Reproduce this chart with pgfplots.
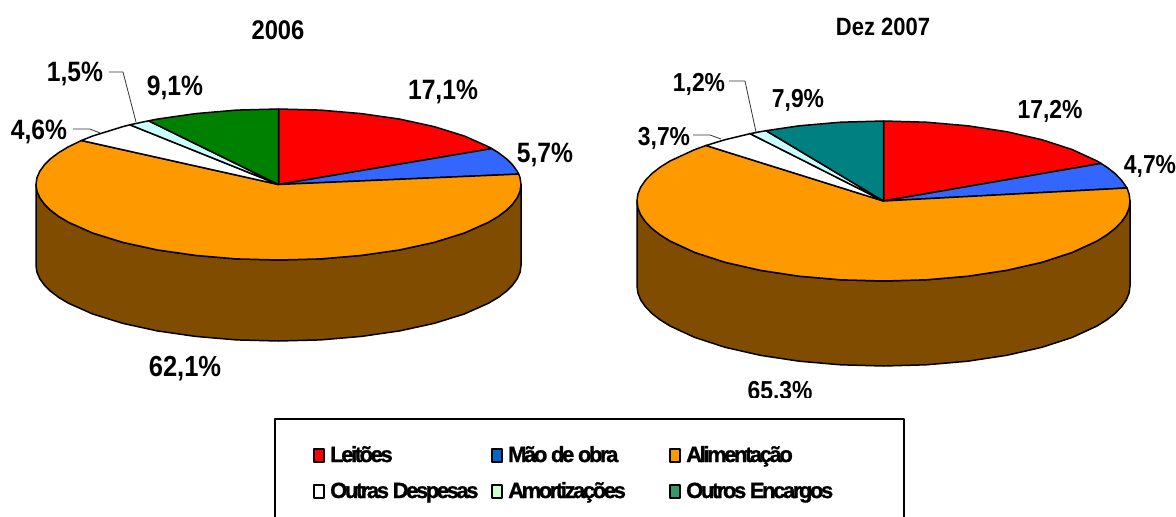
\documentclass[border=0pt]{standalone}
\usepackage{fontspec}
\setmainfont{Liberation Sans}
\newfontfamily\legfont[LetterSpace=-11,BoldFeatures={FakeBold=1.2}]{Liberation Sans}
\usepackage{pgfplots}
\pgfplotsset{compat=1.18}
\definecolor{cBrown}{HTML}{7F4C00}
\definecolor{cBlue}{HTML}{3366FF}
\definecolor{cOrange}{HTML}{FF9900}
\definecolor{cCyan}{HTML}{CCFFFF}
\definecolor{cGreen}{HTML}{008000}
\definecolor{cTeal}{HTML}{008080}
\definecolor{cLegBlue}{HTML}{0066CC}
\definecolor{cLegMint}{HTML}{CCFFCC}
\definecolor{cLegGreen}{HTML}{339966}
\newcommand{\lab}[2]{\fontsize{#1}{#1}\selectfont\bfseries\scalebox{.88}[1]{#2}}
\newcommand{\leg}[1]{\legfont\fontsize{22}{22}\selectfont\bfseries #1}
\begin{document}
\begin{tikzpicture}
\begin{axis}[
  scale only axis, width=1176pt, height=517pt,
  xmin=0, xmax=1176, ymin=0, ymax=517, y dir=reverse,
  hide axis, clip=true,
  every axis plot/.append style={no markers, line join=round},
  slice/.style={draw=black, line width=1.5pt},
  lead/.style={draw=black!80, line width=0.8pt},
  sw/.style={draw=black, line width=1.2pt},
]
% ---------- 2006 ----------
\addplot[slice, fill=cBrown] coordinates {
(521,184.5)(520.1,191.1)(517.3,197.6)(512.7,204)(506.4,210.3)(498.3,216.4)(488.5,222.25)(464.3,233)(434.4,242.3)(399.75,249.9)(361.4,255.4)(320.6,258.9)(278.5,260)(236.4,258.9)(195.6,255.4)(157.25,249.9)(122.6,242.3)(92.7,233)(68.5,222.25)(58.7,216.4)(50.6,210.3)(44.3,204)(39.7,197.6)(36.9,191.1)(36,184.5)
(36,265.5)(36.9,272.1)(39.7,278.6)(44.3,285)(50.6,291.3)(58.7,297.4)(68.5,303.25)(92.7,314)(122.6,323.3)(157.25,330.9)(195.6,336.4)(236.4,339.9)(278.5,341)(320.6,339.9)(361.4,336.4)(399.75,330.9)(434.4,323.3)(464.3,314)(488.5,303.25)(498.3,297.4)(506.4,291.3)(512.7,285)(517.3,278.6)(520.1,272.1)(521,265.5)
} -- cycle;
% Leitoes 17.1
\addplot[slice, fill=red] coordinates {
(278.5,184.5)(278.5,109)(320.6,110.1)(361.4,113.6)(399.75,119.1)(434.4,126.7)(464.3,136)(488.5,146.75)(491.8,148.6)
} -- cycle;
% Mao de obra 5.7
\addplot[slice, fill=cBlue] coordinates {
(278.5,184.5)(491.8,148.6)(498.3,152.6)(506.4,158.7)(512.7,165)(517.3,171.4)(518.7,174.1)
} -- cycle;
% Alimentacao 62.1
\addplot[slice, fill=cOrange] coordinates {
(278.5,184.5)(518.7,174.1)(520.1,177.9)(521,184.5)(520.1,191.1)(517.3,197.6)(512.7,204)(506.4,210.3)(498.3,216.4)(488.5,222.25)(464.3,233)(434.4,242.3)(399.75,249.9)(361.4,255.4)(320.6,258.9)(278.5,260)(236.4,258.9)(195.6,255.4)(157.25,249.9)(122.6,242.3)(92.7,233)(68.5,222.25)(58.7,216.4)(50.6,210.3)(44.3,204)(39.7,197.6)(36.9,191.1)(36,184.5)(36.9,177.9)(39.7,171.4)(44.3,165)(50.6,158.7)(58.7,152.6)(68.5,146.75)(81.4,140.5)
} -- cycle;
% Outras despesas 4.6
\addplot[slice, fill=white] coordinates {
(278.5,184.5)(81.4,140.5)(92.7,136)(122.6,126.7)(129.9,124.8)
} -- cycle;
% Amortizacoes 1.5
\addplot[slice, fill=cCyan] coordinates {
(278.5,184.5)(129.9,124.8)(148.6,120.8)
} -- cycle;
% Outros encargos 9.1
\addplot[slice, fill=cGreen] coordinates {
(278.5,184.5)(148.6,120.8)(157.25,119.1)(195.6,113.6)(236.4,110.1)(278.5,109)
} -- cycle;
% ---------- Dez 2007 ----------
\addplot[slice, fill=cBrown] coordinates {
(1130,201)(1129.1,208)(1126.3,214.9)(1121.6,221.7)(1115.1,228.4)(1106.9,234.8)(1097,241)(1072.3,252.4)(1041.9,262.3)(1006.75,270.3)(967.8,276.2)(926.3,279.8)(883.5,281)(840.7,279.8)(799.2,276.2)(760.25,270.3)(725.1,262.3)(694.7,252.4)(670,241)(660.1,234.8)(651.9,228.4)(645.4,221.7)(640.7,214.9)(637.9,208)(637,201)
(637,286)(637.9,293)(640.7,299.9)(645.4,306.7)(651.9,313.4)(660.1,319.8)(670,326)(694.7,337.4)(725.1,347.3)(760.25,355.3)(799.2,361.2)(840.7,364.8)(883.5,366)(926.3,364.8)(967.8,361.2)(1006.75,355.3)(1041.9,347.3)(1072.3,337.4)(1097,326)(1106.9,319.8)(1115.1,313.4)(1121.6,306.7)(1126.3,299.9)(1129.1,293)(1130,286)
} -- cycle;
% Leitoes 17.2
\addplot[slice, fill=red] coordinates {
(883.5,201)(883.5,121)(926.3,122.2)(967.8,125.8)(1006.75,131.7)(1041.9,139.7)(1072.3,149.6)(1097,161)(1101,163.4)
} -- cycle;
% Mao de obra 4.7
\addplot[slice, fill=cBlue] coordinates {
(883.5,201)(1101,163.4)(1106.9,167.2)(1115.1,173.6)(1121.6,180.3)(1127,188)
} -- cycle;
% Alimentacao 65.3
\addplot[slice, fill=cOrange] coordinates {
(883.5,201)(1127,188)(1129.1,194)(1130,201)(1129.1,208)(1126.3,214.9)(1121.6,221.7)(1115.1,228.4)(1106.9,234.8)(1097,241)(1072.3,252.4)(1041.9,262.3)(1006.75,270.3)(967.8,276.2)(926.3,279.8)(883.5,281)(840.7,279.8)(799.2,276.2)(760.25,270.3)(725.1,262.3)(694.7,252.4)(670,241)(660.1,234.8)(651.9,228.4)(645.4,221.7)(640.7,214.9)(637.9,208)(637,201)(637.9,194)(640.7,187.1)(645.4,180.3)(651.9,173.6)(660.1,167.2)(670,161)(694.7,149.6)(706,145.5)
} -- cycle;
% Outras despesas 3.7
\addplot[slice, fill=white] coordinates {
(883.5,201)(706,145.5)(725.1,139.7)(750.1,133.7)
} -- cycle;
% Amortizacoes 1.2
\addplot[slice, fill=cCyan] coordinates {
(883.5,201)(750.1,133.7)(760.25,131.7)(766.1,130.7)
} -- cycle;
% Outros encargos 7.9
\addplot[slice, fill=cTeal] coordinates {
(883.5,201)(766.1,130.7)(799.2,125.8)(840.7,122.2)(883.5,121)
} -- cycle;
% leader lines
\addplot[lead] coordinates {(109,72)(123,72)(136,122)};
\addplot[lead] coordinates {(73,129)(90,129)(100,133)};
\addplot[lead] coordinates {(729,81)(745,81)(756,132)};
\addplot[lead] coordinates {(693,135)(710,135)(721,139)};
% titles and labels
\node at (axis cs:278,30) {\lab{27}{2006}};
\node at (axis cs:883,27) {\lab{25}{Dez 2007}};
\node at (axis cs:443,92) {\lab{28}{17,1\%}};
\node at (axis cs:545,155) {\lab{28}{5,7\%}};
\node at (axis cs:175,88) {\lab{28}{9,1\%}};
\node at (axis cs:75,74) {\lab{28}{1,5\%}};
\node at (axis cs:39,132) {\lab{28}{4,6\%}};
\node at (axis cs:185,369) {\lab{29}{62,1\%}};
\node at (axis cs:1050,111) {\lab{26}{17,2\%}};
\node at (axis cs:1150,166) {\lab{26}{4,7\%}};
\node at (axis cs:798,100) {\lab{26}{7,9\%}};
\node at (axis cs:699,84) {\lab{26}{1,2\%}};
\node at (axis cs:664,138) {\lab{26}{3,7\%}};
\node at (axis cs:780,392) {\lab{26}{65,3\%}};
% cut-off foot of the last label
\addplot[draw=none, fill=white] coordinates {(700,397.5)(860,397.5)(860,415)(700,415)} -- cycle;
% legend frame, open at the foot
\addplot[draw=black, line width=2pt] coordinates {(275,520)(275,418.5)(904,418.5)(904,520)};
% legend swatches
\addplot[sw, fill=red] coordinates {(314,449)(324,449)(324,462)(314,462)} -- cycle;
\addplot[sw, fill=cLegBlue] coordinates {(492,449)(502,449)(502,462)(492,462)} -- cycle;
\addplot[sw, fill=cOrange] coordinates {(670,449)(680,449)(680,462)(670,462)} -- cycle;
\addplot[sw, fill=white] coordinates {(314,485)(324,485)(324,498)(314,498)} -- cycle;
\addplot[sw, fill=cLegMint] coordinates {(492,485)(502,485)(502,498)(492,498)} -- cycle;
\addplot[sw, fill=cLegGreen] coordinates {(670,485)(680,485)(680,498)(670,498)} -- cycle;
\node[anchor=base west, inner sep=0pt] at (axis cs:330,462) {\leg{Leitões}};
\node[anchor=base west, inner sep=0pt] at (axis cs:508,462) {\leg{Mão de obra}};
\node[anchor=base west, inner sep=0pt] at (axis cs:686,462) {\leg{Alimentação}};
\node[anchor=base west, inner sep=0pt] at (axis cs:330,498) {\leg{Outras Despesas}};
\node[anchor=base west, inner sep=0pt] at (axis cs:508,498) {\leg{Amortizações}};
\node[anchor=base west, inner sep=0pt] at (axis cs:686,498) {\leg{Outros Encargos}};
\end{axis}
\pgfresetboundingbox
\useasboundingbox (current axis.south west) rectangle (current axis.north east);
\end{tikzpicture}
\end{document}
